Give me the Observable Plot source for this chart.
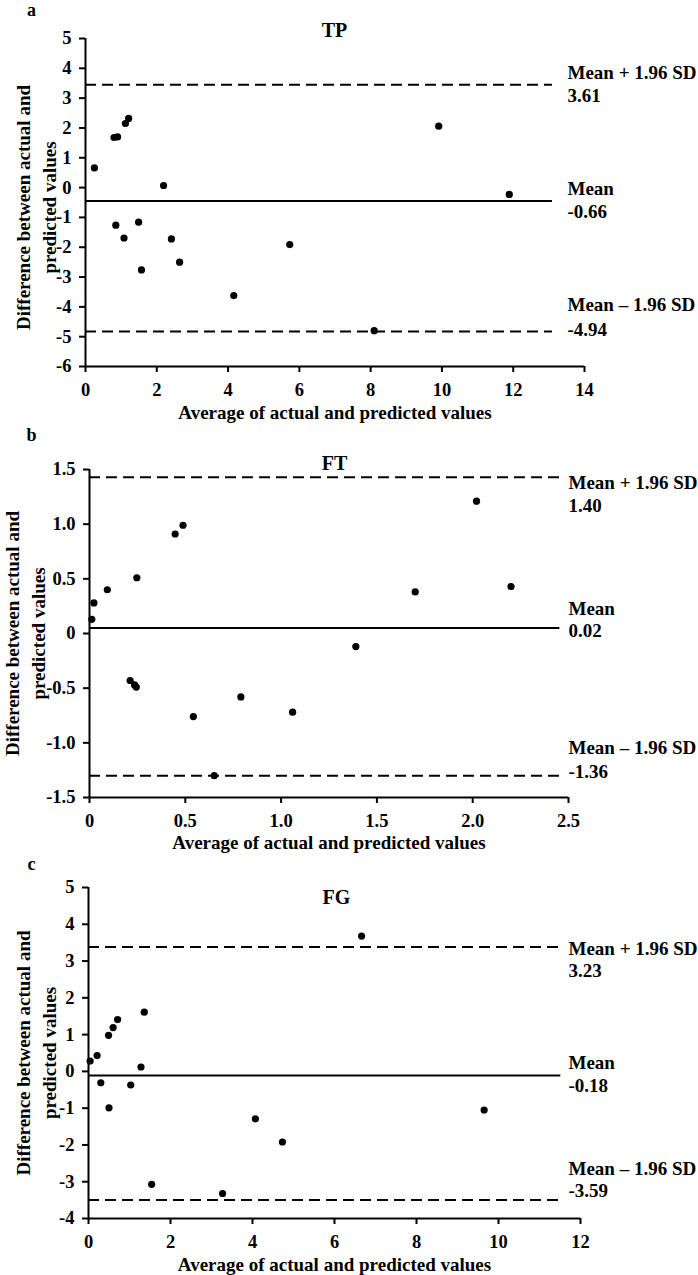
<!DOCTYPE html>
<html><head><meta charset="utf-8">
<script src="https://cdn.jsdelivr.net/npm/d3@7"></script>
<script src="https://cdn.jsdelivr.net/npm/@observablehq/plot@0.6"></script>
<style>body{margin:0;background:#fff;} #c{width:698px;} svg{display:block;}</style>
</head><body><div id="c"></div>
<script>
// ---- data ----
const tpX = [0.25,0.80,0.90,1.12,1.21,2.19,11.89,9.91,0.85,1.08,1.49,2.41,1.57,2.64,5.73,4.16,8.10];
const tpY = [0.66,1.68,1.70,2.15,2.32,0.07,-0.23,2.06,-1.26,-1.69,-1.16,-1.72,-2.76,-2.50,-1.91,-3.62,-4.80];
const tpLimits = [3.45, -0.45, -4.83];           // drawn: upper, mean, lower
const tpLimitText = ["3.61", "-0.66", "-4.94"];

const ftX = [0.012,0.023,0.093,0.247,0.447,0.488,2.02,2.20,1.70,1.39,0.212,0.235,0.244,0.79,0.542,1.06,0.651];
const ftY = [0.13,0.28,0.40,0.51,0.91,0.99,1.21,0.43,0.38,-0.12,-0.43,-0.47,-0.49,-0.58,-0.76,-0.72,-1.30];
const ftLimits = [1.43, 0.05, -1.30];
const ftLimitText = ["1.40", "0.02", "-1.36"];

const fgX = [0.04,0.21,0.49,0.60,0.71,1.36,1.28,0.30,1.03,0.50,6.66,9.65,4.07,4.73,1.54,3.27];
const fgY = [0.28,0.43,0.98,1.19,1.41,1.61,0.12,-0.31,-0.37,-0.99,3.68,-1.05,-1.29,-1.92,-3.07,-3.32];
const fgLimits = [3.38, -0.11, -3.50];
const fgLimitText = ["3.23", "-0.18", "-3.59"];

const limitNames = ["Mean + 1.96 SD", "Mean", "Mean \u2013 1.96 SD"];
const panelLetters = ["a", "b", "c"];
const panelTitles = ["TP", "FT", "FG"];
const xTitle = "Average of actual and predicted values";
const yTitle = "Difference between actual and\npredicted values";

const tpXTicks = [0,2,4,6,8,10,12,14];
const tpYTicks = [-6,-5,-4,-3,-2,-1,0,1,2,3,4,5];
const ftXTicks = [0,0.5,1.0,1.5,2.0,2.5];
const ftYTicks = [-1.5,-1.0,-0.5,0,0.5,1.0,1.5];
const fgXTicks = [0,2,4,6,8,10,12];
const fgYTicks = [-4,-3,-2,-1,0,1,2,3,4,5];

// ---- formatting / layout ----
const fmtInt = d => String(d);
const fmt1 = d => d === 0 ? "0" : d.toFixed(1);
const W = 698, H = 425;
const FONT = "'Liberation Serif','Times New Roman',serif";
const FS = 19, TICKFS = 18.5;

const panels = [
  {xs: tpX, ys: tpY, limits: tpLimits, limitText: tpLimitText, xTicks: tpXTicks, yTicks: tpYTicks,
   xFmt: fmtInt, yFmt: fmtInt, lineEnd: 13.1,
   ml: 85, mr: 114, mt: 38, mb: 59,
   letter: [31, 10], title: [334, 30], xTitleDy: 46, yTitle: [34, 5], labelX: 567,
   labelDy: [[-12, 11], [-12, 11], [-27, -2]]},
  {xs: ftX, ys: ftY, limits: ftLimits, limitText: ftLimitText, xTicks: ftXTicks, yTicks: ftYTicks,
   xFmt: fmt1, yFmt: fmt1, lineEnd: 2.455,
   ml: 89, mr: 130, mt: 44, mb: 53,
   letter: [31, 10], title: [334, 38], xTitleDy: 45, yTitle: [23, 0], labelX: 568,
   labelDy: [[6, 29], [-19, 3], [-28, -4]]},
  {xs: fgX, ys: fgY, limits: fgLimits, limitText: fgLimitText, xTicks: fgXTicks, yTicks: fgYTicks,
   xFmt: fmtInt, yFmt: fmtInt, lineEnd: 11.52,
   ml: 88, mr: 118, mt: 37, mb: 57,
   letter: [31, 14], title: [336, 47], xTitleDy: 46, yTitle: [34, 0], labelX: 568,
   labelDy: [[2, 24], [-13, 10], [-31, -9]]}
];

function txt(s, o) { return Plot.text([s], {text: d => d, fill: "black", fontWeight: "bold", ...o}); }

panels.forEach((p, i) => {
  const data = p.xs.map((x, j) => ({x, y: p.ys[j]}));
  const xd = [p.xTicks[0], p.xTicks[p.xTicks.length - 1]];
  const yd = [p.yTicks[0], p.yTicks[p.yTicks.length - 1]];
  const frameCx = (p.ml + (W - p.mr)) / 2;
  const marks = [
    Plot.ruleX([xd[0]], {y1: yd[0], y2: yd[1], stroke: "black", strokeWidth: 2}),
    Plot.ruleY([yd[0]], {x1: xd[0], x2: xd[1], stroke: "black", strokeWidth: 2}),
    Plot.axisX({ticks: p.xTicks, tickFormat: p.xFmt, tickSize: 6, tickPadding: 10, fontSize: TICKFS, fontWeight: "bold", strokeWidth: 2, label: null}),
    Plot.axisY({ticks: p.yTicks, tickFormat: p.yFmt, tickSize: 6, tickPadding: 8, fontSize: TICKFS, fontWeight: "bold", strokeWidth: 2, label: null}),
    Plot.ruleY([p.limits[1]], {x1: 0, x2: p.lineEnd, stroke: "black", strokeWidth: 2}),
    Plot.ruleY([p.limits[0], p.limits[2]], {x1: 0, x2: p.lineEnd, stroke: "black", strokeWidth: 2, strokeDasharray: "11,6"}),
    Plot.dot(data, {x: "x", y: "y", r: 3.6, fill: "black", stroke: null}),
    txt(panelLetters[i], {frameAnchor: "top-left", dx: p.letter[0] - p.ml, dy: p.letter[1] - p.mt, textAnchor: "middle", lineAnchor: "middle", fontSize: 18}),
    txt(panelTitles[i], {frameAnchor: "top", dx: p.title[0] - frameCx, dy: p.title[1] - p.mt, textAnchor: "middle", lineAnchor: "middle", fontSize: 20}),
    txt(xTitle, {frameAnchor: "bottom", dy: p.xTitleDy, textAnchor: "middle", lineAnchor: "middle", fontSize: FS}),
    txt(yTitle, {frameAnchor: "left", dx: p.yTitle[0] - p.ml, dy: p.yTitle[1], rotate: -90, textAnchor: "middle", lineAnchor: "middle", lineHeight: 1.4, fontSize: FS})
  ];
  p.limits.forEach((v, k) => {
    const dxR = p.labelX - (W - p.mr);
    marks.push(Plot.text([v], {y: d => d, text: () => limitNames[k], frameAnchor: "right", dx: dxR, dy: p.labelDy[k][0], textAnchor: "start", lineAnchor: "middle", fontSize: FS, fontWeight: "bold", fill: "black"}));
    marks.push(Plot.text([v], {y: d => d, text: () => p.limitText[k], frameAnchor: "right", dx: dxR, dy: p.labelDy[k][1], textAnchor: "start", lineAnchor: "middle", fontSize: FS, fontWeight: "bold", fill: "black"}));
  });
  const chart = Plot.plot({
    width: W, height: H,
    marginLeft: p.ml, marginRight: p.mr, marginTop: p.mt, marginBottom: p.mb,
    x: {domain: xd, axis: null},
    y: {domain: yd, axis: null},
    style: {fontFamily: FONT, fontSize: "18px", fontWeight: "bold", color: "black", background: "white", overflow: "visible"},
    marks
  });
  document.getElementById("c").appendChild(chart);
});
</script>
</body></html>
